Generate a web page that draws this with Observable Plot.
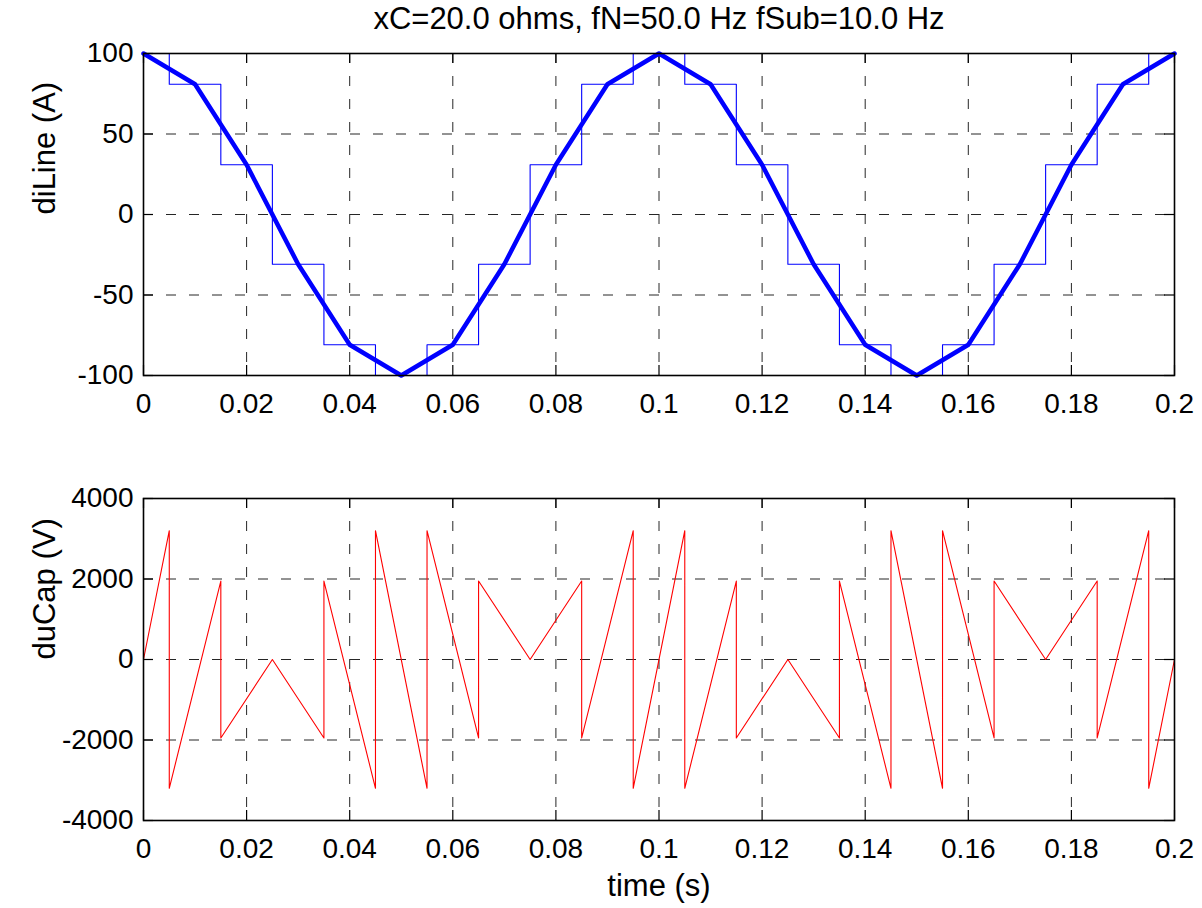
<!DOCTYPE html>
<html>
<head>
<meta charset="utf-8">
<script src="https://cdn.jsdelivr.net/npm/d3@7"></script>
<script src="https://cdn.jsdelivr.net/npm/@observablehq/plot@0.6"></script>
<style>
  html, body { margin: 0; padding: 0; background: #fff; }
  #chart { width: 1202px; height: 908px; position: relative; }
  #chart svg { display: block; }
</style>
</head>
<body>
<div id="chart"></div>
<script>
// ---- data ----
const titleText = "xC=20.0 ohms, fN=50.0 Hz fSub=10.0 Hz";
const topYLabel = "diLine (A)";
const bottomYLabel = "duCap (V)";
const xLabel = "time (s)";

const xTicks = [0, 0.02, 0.04, 0.06, 0.08, 0.1, 0.12, 0.14, 0.16, 0.18, 0.2];
const topYTicks = [-100, -50, 0, 50, 100];
const bottomYTicks = [-4000, -2000, 0, 2000, 4000];

// line current samples
const tSample = [0, 0.01, 0.02, 0.03, 0.04, 0.05, 0.06, 0.07, 0.08, 0.09, 0.1,
                 0.11, 0.12, 0.13, 0.14, 0.15, 0.16, 0.17, 0.18, 0.19, 0.2];
const iLine = [100, 80.9, 30.9, -30.9, -80.9, -100, -80.9, -30.9, 30.9, 80.9, 100,
               80.9, 30.9, -30.9, -80.9, -100, -80.9, -30.9, 30.9, 80.9, 100];

// capacitor voltage
const uTime = [0, 0.005, 0.005, 0.015, 0.015, 0.025, 0.035, 0.035, 0.045, 0.045,
               0.055, 0.055, 0.065, 0.065, 0.075, 0.085, 0.085, 0.095, 0.095,
               0.105, 0.105, 0.115, 0.115, 0.125, 0.135, 0.135, 0.145, 0.145,
               0.155, 0.155, 0.165, 0.165, 0.175, 0.185, 0.185, 0.195, 0.195, 0.2];
const uCap = [0, 3200, -3200, 1950, -1950, 0, -1950, 1950, -3200, 3200,
              -3200, 3200, -1950, 1950, 0, 1950, -1950, 3200, -3200,
              3200, -3200, 1950, -1950, 0, -1950, 1950, -3200, 3200,
              -3200, 3200, -1950, 1950, 0, 1950, -1950, 3200, -3200, 0];

// ---- build ----
const iData = tSample.map((t, k) => ({t, v: iLine[k]}));
const uData = uTime.map((t, k) => ({t, v: uCap[k]}));

const FONT = "'Liberation Sans', Arial, Helvetica, sans-serif";
const W = 1202;
const mL = 143, mR = 28;
const plotH = 322;
const tickLen = 10;
const gridStyle = {stroke: "#262626", strokeOpacity: 1, strokeWidth: 1, strokeDasharray: "10,13"};
const xFmt = d => String(+d.toFixed(2));
const yFmt = d => String(d);

function panel({height, marginTop, marginBottom, yDomain, yTicks, marks, extra}) {
  return Plot.plot({
    width: W, height, marginLeft: mL, marginRight: mR, marginTop, marginBottom,
    style: {fontFamily: FONT, fontSize: "28px", color: "#000", background: "#fff", overflow: "visible"},
    x: {domain: [0, 0.2], axis: null},
    y: {domain: yDomain, axis: null},
    marks: [
      Plot.gridX(xTicks, gridStyle),
      Plot.gridY(yTicks, gridStyle),
      // inward ticks on all four sides
      Plot.tickX(xTicks, {x: d => d, insetTop: plotH - tickLen, stroke: "#000", strokeWidth: 1.2}),
      Plot.tickX(xTicks, {x: d => d, insetBottom: plotH - tickLen, stroke: "#000", strokeWidth: 1.2}),
      Plot.tickY(yTicks, {y: d => d, insetRight: (W - mL - mR) - tickLen, stroke: "#000", strokeWidth: 1.2}),
      Plot.tickY(yTicks, {y: d => d, insetLeft: (W - mL - mR) - tickLen, stroke: "#000", strokeWidth: 1.2}),
      Plot.axisX(xTicks, {anchor: "bottom", tickSize: 0, tickPadding: 18, tickFormat: xFmt, label: null, fill: "#000"}),
      Plot.axisY(yTicks, {anchor: "left", tickSize: 0, tickPadding: 10, tickFormat: yFmt, label: null, fill: "#000"}),
      ...marks,
      Plot.frame({stroke: "#000", strokeWidth: 1.6}),
      ...extra
    ]
  });
}

const topPanel = panel({
  height: 445, marginTop: 53, marginBottom: 70,
  yDomain: [-100, 100], yTicks: topYTicks,
  marks: [
    Plot.line(iData, {x: "t", y: "v", curve: "step", stroke: "#0000ff", strokeWidth: 1.1}),
    Plot.line(iData, {x: "t", y: "v", stroke: "#0000ff", strokeWidth: 4.5, strokeLinejoin: "round"})
  ],
  extra: [
    Plot.text([titleText], {text: d => d, frameAnchor: "top", lineAnchor: "middle", dy: -34, fontSize: 31, fill: "#000"}),
    Plot.text([topYLabel], {text: d => d, frameAnchor: "left", dx: -98, rotate: -90, fontSize: 31, fill: "#000"})
  ]
});

const bottomPanel = panel({
  height: 463, marginTop: 53, marginBottom: 88,
  yDomain: [-4000, 4000], yTicks: bottomYTicks,
  marks: [
    Plot.line(uData, {x: "t", y: "v", stroke: "#ff0000", strokeWidth: 1.1})
  ],
  extra: [
    Plot.text([bottomYLabel], {text: d => d, frameAnchor: "left", dx: -98, rotate: -90, fontSize: 31, fill: "#000"}),
    Plot.text([xLabel], {text: d => d, frameAnchor: "bottom", lineAnchor: "middle", dy: 66, fontSize: 31, fill: "#000"})
  ]
});

const chart = document.getElementById("chart");
chart.appendChild(topPanel);
chart.appendChild(bottomPanel);
</script>
</body>
</html>
